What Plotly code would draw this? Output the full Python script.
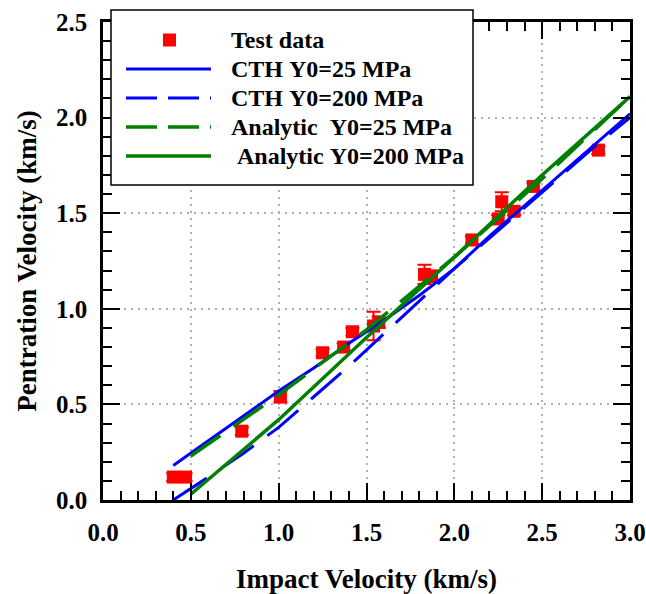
import plotly.graph_objects as go

# Test data (impact velocity vs penetration velocity, km/s)
impact_test = [0.40, 0.47, 0.79, 1.01, 1.25, 1.37, 1.42, 1.54, 1.57, 1.83, 1.87, 2.10, 2.25, 2.27, 2.34, 2.45, 2.82]
pen_test = [0.12, 0.12, 0.36, 0.54, 0.77, 0.80, 0.88, 0.91, 0.93, 1.18, 1.17, 1.36, 1.47, 1.56, 1.51, 1.64, 1.83]
err_test = [0.02, 0.02, 0.02, 0.03, 0.02, 0.02, 0.02, 0.075, 0.03, 0.05, 0.03, 0.02, 0.02, 0.05, 0.02, 0.02, 0.02]

# CTH simulations
cth25_x = [0.4, 0.6, 0.8, 1.0, 1.2, 1.4, 1.6, 1.8, 2.0, 2.2, 2.4, 2.6, 2.8, 3.0]
cth25_y = [0.18, 0.31, 0.44, 0.57, 0.69, 0.82, 0.94, 1.07, 1.21, 1.38, 1.54, 1.70, 1.86, 2.02]
cth200_x = [0.4, 0.6, 0.8, 1.0, 1.2, 1.4, 1.6, 1.8, 2.0, 2.2, 2.4, 2.6, 2.8, 3.0]
cth200_y = [0.0, 0.12, 0.245, 0.38, 0.54, 0.70, 0.87, 1.04, 1.21, 1.37, 1.53, 1.69, 1.85, 2.0]

# Analytic model
ana25_x = [0.5, 1.0, 1.5, 2.0, 2.5, 3.0]
ana25_y = [0.23, 0.55, 0.89, 1.27, 1.68, 2.11]
ana200_x = [0.5, 1.0, 1.5, 2.0, 2.5, 3.0]
ana200_y = [0.03, 0.42, 0.85, 1.27, 1.70, 2.11]

legend_names = ["Test data", "CTH Y0=25 MPa", "CTH Y0=200 MPa",
                "Analytic  Y0=25 MPa", " Analytic Y0=200 MPa"]

BLUE = "#0000FF"
GREEN = "#008000"
RED = "#FF0000"
FONT = "Liberation Serif"

fig = go.Figure()

fig.add_trace(go.Scatter(
    x=impact_test, y=pen_test, mode="markers",
    marker=dict(symbol="square", size=13, color=RED),
    error_y=dict(type="data", array=err_test, color=RED, thickness=2, width=7),
    name=legend_names[0]))

fig.add_trace(go.Scatter(x=cth25_x, y=cth25_y, mode="lines",
                         line=dict(color=BLUE, width=3), name=legend_names[1]))
fig.add_trace(go.Scatter(x=cth200_x, y=cth200_y, mode="lines",
                         line=dict(color=BLUE, width=3, dash="40px,17px"), name=legend_names[2]))
fig.add_trace(go.Scatter(x=ana25_x, y=ana25_y, mode="lines",
                         line=dict(color=GREEN, width=3.5, dash="36px,16px"), name=legend_names[3]))
fig.add_trace(go.Scatter(x=ana200_x, y=ana200_y, mode="lines",
                         line=dict(color=GREEN, width=3.5), name=legend_names[4]))

# plot area in pixels: left 103, right 630, top 22, bottom 500
L, R, T, B = 103, 630, 22, 500
def px(x):
    return (x - L) / (R - L)
def py(y):
    return (B - y) / (B - T)

# hand-drawn legend box (long line samples like the original)
shapes = [dict(type="rect", xref="paper", yref="paper", layer="above",
               x0=px(111), x1=px(473), y0=py(185), y1=py(10),
               line=dict(color="black", width=1.5), fillcolor="white")]
shapes.append(dict(type="rect", xref="paper", yref="paper", layer="above",
                   x0=px(163), x1=px(176), y0=py(46.5), y1=py(33.5),
                   line=dict(width=0), fillcolor=RED))
row_y = [40, 69, 98, 127, 156]
samples = [(BLUE, "solid", 3), (BLUE, "31px,11px", 3), (GREEN, "31px,11px", 3.5), (GREEN, "solid", 3.5)]
for (col, dash, w), yy in zip(samples, row_y[1:]):
    shapes.append(dict(type="line", xref="paper", yref="paper", layer="above",
                       x0=px(126), x1=px(211), y0=py(yy), y1=py(yy),
                       line=dict(color=col, width=w, dash=dash)))

annotations = []
for name, yy in zip(legend_names, row_y):
    annotations.append(dict(xref="paper", yref="paper", x=px(229), y=py(yy),
                            text="<b>" + name.replace(" ", "&nbsp;") + "</b>",
                            showarrow=False, xanchor="left", yanchor="middle",
                            font=dict(family=FONT, size=24, color="black")))

axis_common = dict(
    showline=True, linecolor="black", linewidth=2.5, mirror="ticks",
    ticks="inside", ticklen=17, tickwidth=2, tickcolor="black",
    tickformat=".1f", dtick=0.5, automargin=False,
    tickfont=dict(family=FONT, size=25, color="black", weight="bold"),
    showgrid=True, gridcolor="#B0B0B0", gridwidth=2, griddash="2px,5px",
    zeroline=False, ticklabelstandoff=8,
    minor=dict(ticks="inside", ticklen=9, tickwidth=2, tickcolor="black",
               dtick=0.1, showgrid=False),
)

fig.update_layout(
    width=646, height=594,
    margin=dict(l=L, r=646 - R, t=T, b=594 - B),
    plot_bgcolor="white", paper_bgcolor="white",
    showlegend=False,
    shapes=shapes, annotations=annotations,
    xaxis=dict(range=[0, 3.0], **axis_common,
               title=dict(text="Impact Velocity (km/s)", standoff=30,
                          font=dict(family=FONT, size=27, color="black", weight="bold"))),
    yaxis=dict(range=[0, 2.5], **axis_common,
               title=dict(text="Pentration Velocity (km/s)", standoff=12,
                          font=dict(family=FONT, size=27, color="black", weight="bold"))),
)

# drop the default page margin so the figure sits at the window's corner
fig.write_html("out.html", config={"displayModeBar": False},
               post_script="document.body.style.margin='0';")
